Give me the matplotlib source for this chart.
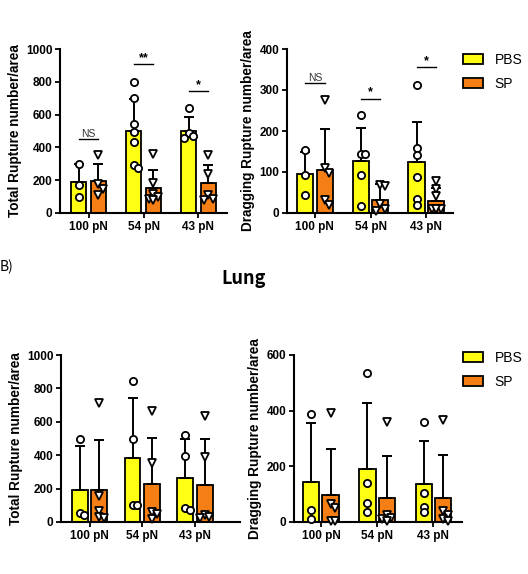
import numpy as np
import matplotlib
matplotlib.use("Agg")
import matplotlib.pyplot as plt
from matplotlib.patches import Patch

plt.rcParams['font.family'] = ['Liberation Sans', 'DejaVu Sans']

categories = ["100 pN", "54 pN", "43 pN"]
groups = ["PBS", "SP"]
colors = {"PBS": "#FFFF14", "SP": "#F57F14"}

# ---- Top row (panel A) ----
a_total_mean = {"PBS": [188, 500, 502], "SP": [195, 152, 180]}
a_total_sd = {"PBS": [112, 198, 85], "SP": [105, 110, 115]}
a_total_pts = {
    "PBS": [[297, 169, 98], [800, 700, 540, 495, 434, 290, 277], [640, 490, 470, 460]],
    "SP": [[352, 179, 149, 108], [362, 180, 118, 98, 88, 77], [352, 240, 108, 88, 80]],
}
a_drag_mean = {"PBS": [96, 128, 125], "SP": [105, 32, 30]}
a_drag_sd = {"PBS": [52, 80, 98], "SP": [100, 38, 32]}
a_drag_pts = {
    "PBS": [[154, 93, 45], [238, 144, 144, 93, 18], [311, 159, 142, 89, 34, 19]],
    "SP": [[276, 110, 97, 32, 20], [69, 67, 23, 10, 6], [77, 58, 41, 10, 10, 10, 10]],
}
a_total_sig = [("NS", 454), ("**", 906), ("*", 745)]
a_drag_sig = [("NS", 318), ("*", 279), ("*", 355)]

# ---- Bottom row (panel B, Lung) ----
b_total_mean = {"PBS": [190, 385, 265], "SP": [190, 225, 220]}
b_total_sd = {"PBS": [263, 360, 232], "SP": [300, 278, 277]}
b_total_pts = {
    "PBS": [[495, 52, 40], [844, 497, 102, 102], [521, 395, 86, 72]],
    "SP": [[715, 156, 68, 32, 22], [665, 351, 60, 50, 20], [635, 391, 40, 30, 25]],
}
b_drag_mean = {"PBS": [145, 192, 138], "SP": [98, 85, 85]}
b_drag_sd = {"PBS": [210, 235, 152], "SP": [164, 152, 155]}
b_drag_pts = {
    "PBS": [[388, 43, 11], [536, 139, 67, 37], [360, 105, 55, 35]],
    "SP": [[390, 65, 49, 5, 5], [358, 25, 15, 10, 5], [366, 40, 25, 10, 5]],
}

W, H = 528, 574
fig = plt.figure(figsize=(W / 100, H / 100), dpi=100)


def ax_at(l, r, b, t):
    return fig.add_axes([l / W, 1 - b / H, (r - l) / W, (b - t) / H])


def draw(ax, means, sds, pts, ymax, yticks, ylabel, xlim, off=0.175, bw=0.29, sig=None):
    x = np.arange(len(categories))
    ax.set_xlim(*xlim)
    ax.set_ylim(0, ymax)
    for gi, g in enumerate(groups):
        xs = x + (-off if gi == 0 else off)
        ax.bar(xs, means[g], width=bw, color=colors[g], edgecolor="black",
               linewidth=1.3, zorder=2)
        ax.errorbar(xs, means[g], yerr=[np.zeros(len(xs)), sds[g]], fmt="none",
                    ecolor="black", elinewidth=1.4, capsize=3.5, capthick=1.4, zorder=3)
    fig.canvas.draw()
    trans = ax.transData
    inv = trans.inverted()
    half_px = (trans.transform((bw / 2, 0))[0] - trans.transform((0, 0))[0]) - 2
    dpx = 5.5
    step = 4.5
    for gi, g in enumerate(groups):
        marker = "o" if g == "PBS" else "v"
        for ci in range(len(categories)):
            xc = x[ci] + (-off if gi == 0 else off)
            placed = []
            xs_out, ys_out = [], []
            for v in pts[g][ci]:
                px, py = trans.transform((xc, v))
                cands = [0]
                k = 1
                while k * step <= half_px:
                    cands += [k * step, -k * step]
                    k += 1
                best, bestd = 0, -1
                chosen = None
                for c in cands:
                    dmin = min([np.hypot(px + c - qx, py - qy) for qx, qy in placed] + [1e9])
                    if dmin >= dpx:
                        chosen = c
                        break
                    if dmin > bestd:
                        best, bestd = c, dmin
                if chosen is None:
                    chosen = best
                placed.append((px + chosen, py))
                dx, _ = inv.transform((px + chosen, py))
                xs_out.append(dx)
                ys_out.append(v)
            ax.plot(xs_out, ys_out, linestyle="none", marker=marker,
                    ms=5.2 if marker == "o" else 5.8,
                    mfc="white", mec="black", mew=1.3, zorder=4, clip_on=False)
    ax.spines[["top", "right"]].set_visible(False)
    for s in ["left", "bottom"]:
        ax.spines[s].set_linewidth(1.5)
    ax.set_yticks(yticks)
    ax.set_xticks(x)
    ax.set_xticklabels(categories, fontsize=8.5, fontweight="bold")
    ax.tick_params(axis="both", width=1.3, length=3.5, labelsize=8.5, pad=2)
    for lbl in ax.get_yticklabels():
        lbl.set_fontweight("bold")
    ax.set_ylabel(ylabel, fontsize=9.8, fontweight="bold", labelpad=3)
    if sig:
        for ci, (txt, yv) in enumerate(sig):
            x0, x1 = x[ci] - off, x[ci] + off
            ax.plot([x0, x1], [yv, yv], color="black", lw=1.0, zorder=3, clip_on=False)
            if txt == "NS":
                ax.text((x0 + x1) / 2, yv, "NS", ha="center", va="bottom", fontsize=7.5,
                        color="#333333")
            else:
                ax.text((x0 + x1) / 2, yv, txt, ha="center", va="bottom", fontsize=9,
                        fontweight="bold")


ax1 = ax_at(60, 227, 213, 49)
draw(ax1, a_total_mean, a_total_sd, a_total_pts, 1000, [0, 200, 400, 600, 800, 1000],
     "Total Rupture number/area", (-0.52, 2.52), off=0.18, bw=0.28, sig=a_total_sig)
ax2 = ax_at(287, 453, 213, 49)
draw(ax2, a_drag_mean, a_drag_sd, a_drag_pts, 400, [0, 100, 200, 300, 400],
     "Dragging Rupture number/area", (-0.5, 2.48), off=0.175, bw=0.29, sig=a_drag_sig)
ax3 = ax_at(61, 240, 522, 355)
draw(ax3, b_total_mean, b_total_sd, b_total_pts, 1000, [0, 200, 400, 600, 800, 1000],
     "Total Rupture number/area", (-0.54, 2.85), off=0.185, bw=0.3)
ax4 = ax_at(294, 462, 522, 355)
draw(ax4, b_drag_mean, b_drag_sd, b_drag_pts, 600, [0, 200, 400, 600],
     "Dragging Rupture number/area", (-0.48, 2.51), off=0.172, bw=0.29)

handles = [Patch(facecolor=colors[g], edgecolor="black", linewidth=1.3, label=g) for g in groups]
for ytop in (47, 345):
    fig.legend(handles=handles, loc="upper left", bbox_to_anchor=(457 / W, 1 - ytop / H),
               frameon=False, fontsize=10, handlelength=1.5, handleheight=0.7,
               labelspacing=0.72, handletextpad=0.8, borderaxespad=0)

fig.text(0 / W, 1 - 267 / H, "B)", fontsize=10, ha="left", va="center",
         family=["Noto Sans CJK KR", "DejaVu Sans"])
fig.text(244 / W, 1 - 278 / H, "Lung", fontsize=13, ha="center", va="center",
         fontweight="bold", family=["Noto Sans CJK KR", "DejaVu Sans"])

fig.savefig("out.png", dpi=100)
